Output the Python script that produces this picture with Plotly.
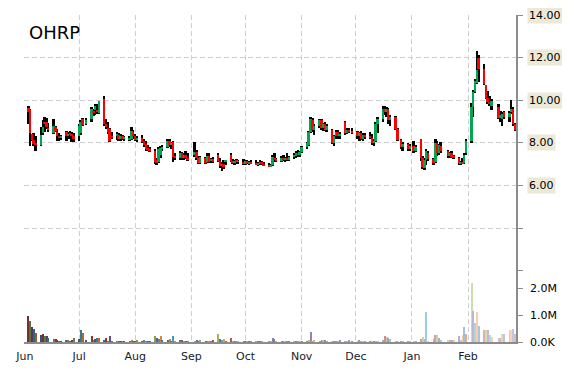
import pandas as pd
import plotly.graph_objects as go

ticker = "OHRP"
holidays = ["2013-07-04", "2013-09-02", "2013-11-28", "2013-12-25",
            "2014-01-01", "2014-01-20", "2014-02-17"]
dates = pd.bdate_range("2013-06-03", "2014-02-27", freq="C", holidays=holidays)

# weekly rows (Mon..Fri, holidays skipped)
open_ = [
    9.65, 9.55, 8.40, 8.15, 8.00,
    7.90, 8.45, 8.95, 9.00, 8.70,
    8.45, 8.75, 8.50, 8.30, 8.25,
    8.50, 8.35, 8.45, 8.40, 8.30,
    8.30, 8.45, 9.10, 8.90,
    9.10, 9.45, 9.55, 9.50, 9.40,
    10.05, 8.90, 8.70, 8.65, 8.30,
    8.30, 8.35, 8.20, 8.30, 8.20,
    8.15, 8.20, 8.50, 8.30, 8.15,
    8.25, 8.10, 7.95, 7.75, 7.70,
    7.60, 7.20, 7.10, 7.45, 7.75,
    7.80, 8.10, 7.90, 8.05, 7.35,
    7.30, 7.50, 7.30, 7.45, 7.30,
    7.45, 7.55, 7.30, 7.05,
    7.30, 7.10, 7.40, 7.15, 7.25,
    7.45, 7.15, 6.90, 7.00, 7.10,
    7.45, 7.15, 7.05, 7.15, 7.10,
    7.10, 7.00, 7.15, 7.05, 7.10,
    7.05, 7.00, 7.05, 7.10, 7.00,
    6.95, 6.90, 6.95, 7.30, 7.20,
    7.15, 7.30, 7.20, 7.30, 7.20,
    7.35, 7.40, 7.50, 7.45, 7.55,
    7.80, 7.90, 8.50, 9.05, 8.60,
    8.80, 9.05, 8.70, 8.90, 8.60,
    8.60, 8.00, 8.30, 8.50, 8.30,
    9.00, 8.45, 8.60, 8.55,
    8.50, 8.30, 8.45, 8.20, 8.35,
    8.30, 8.25, 8.00, 8.10, 8.90,
    9.10, 9.60, 9.45, 9.60, 9.05,
    9.20, 8.65, 8.15, 7.80,
    7.95, 7.70, 7.85, 7.60,
    8.20, 7.30, 6.80, 7.20, 7.50,
    7.25, 7.10, 8.00, 7.50, 7.85,
    7.60, 7.40, 7.50, 7.35,
    7.30, 7.05, 7.10, 7.05, 7.50,
    8.10, 9.70, 10.40, 10.80, 12.00,
    11.45, 10.70, 10.10, 9.90, 9.75,
    9.70, 9.15, 9.10, 9.45,
    9.20, 9.45, 9.60, 8.90,
]
high = [
    9.72, 9.60, 8.42, 8.45, 8.30,
    8.75, 9.05, 9.20, 9.15, 8.95,
    9.10, 8.80, 8.65, 8.45, 8.35,
    8.55, 8.50, 8.55, 8.50, 8.45,
    8.90, 9.05, 9.15, 9.15,
    9.70, 9.60, 9.80, 9.80, 9.97,
    10.20, 9.10, 9.00, 8.70, 8.50,
    8.50, 8.45, 8.40, 8.35, 8.30,
    8.30, 8.76, 8.60, 8.40, 8.30,
    8.35, 8.20, 8.10, 7.90, 7.80,
    7.70, 7.30, 7.80, 7.85, 7.90,
    8.20, 8.20, 8.05, 8.10, 7.50,
    7.60, 7.55, 7.50, 7.60, 7.50,
    8.05, 7.65, 7.40, 7.40,
    7.35, 7.50, 7.50, 7.30, 7.35,
    7.50, 7.30, 7.10, 7.20, 7.20,
    7.50, 7.25, 7.20, 7.25, 7.20,
    7.25, 7.20, 7.20, 7.15, 7.20,
    7.20, 7.10, 7.20, 7.15, 7.10,
    7.05, 7.00, 7.45, 7.50, 7.30,
    7.40, 7.45, 7.35, 7.50, 7.40,
    7.50, 7.60, 7.65, 7.60, 7.85,
    8.05, 8.55, 9.22, 9.15, 8.90,
    9.13, 9.10, 8.95, 9.00, 8.90,
    8.65, 8.35, 8.60, 8.60, 8.50,
    9.04, 8.70, 8.70, 8.70,
    8.57, 8.50, 8.55, 8.45, 8.45,
    8.50, 8.40, 8.20, 9.00, 9.22,
    9.74, 9.74, 9.70, 9.65, 9.30,
    9.25, 8.70, 8.20, 8.05,
    8.00, 7.95, 8.10, 7.90,
    8.20, 7.40, 7.30, 7.70, 7.60,
    7.30, 8.20, 8.10, 7.95, 8.05,
    7.65, 7.55, 7.60, 7.45,
    7.35, 7.15, 7.30, 7.50, 8.20,
    9.85, 10.50, 11.00, 12.30, 12.10,
    11.70, 10.70, 10.45, 10.20, 10.05,
    9.80, 9.50, 9.45, 9.50,
    9.50, 10.00, 9.70, 8.95,
]
low = [
    8.90, 7.83, 8.10, 7.87, 7.64,
    7.85, 8.35, 8.50, 8.65, 8.50,
    8.40, 8.50, 8.10, 8.10, 8.15,
    8.10, 8.20, 8.20, 8.05, 8.05,
    8.10, 8.35, 8.80, 8.85,
    9.00, 9.25, 9.30, 9.35, 9.35,
    8.80, 8.65, 8.40, 8.05, 8.20,
    8.15, 8.10, 8.10, 8.15, 8.10,
    8.10, 8.15, 8.20, 8.10, 8.05,
    8.00, 7.80, 7.64, 7.60, 7.55,
    7.00, 6.95, 7.05, 7.30, 7.60,
    7.75, 7.80, 7.70, 7.10, 7.20,
    7.20, 7.20, 7.20, 7.25, 7.15,
    7.35, 7.20, 6.99, 7.00,
    7.00, 7.05, 7.05, 7.05, 7.05,
    7.10, 6.80, 6.66, 6.75, 6.95,
    7.10, 7.00, 6.95, 7.00, 7.00,
    6.95, 6.95, 7.00, 6.95, 7.00,
    6.95, 6.90, 6.95, 6.95, 6.90,
    6.85, 6.85, 6.90, 7.10, 7.10,
    7.10, 7.15, 7.10, 7.15, 7.15,
    7.25, 7.30, 7.35, 7.35, 7.50,
    7.70, 7.83, 8.45, 8.50, 8.35,
    8.70, 8.60, 8.55, 8.55, 8.52,
    7.95, 7.83, 8.20, 8.20, 8.20,
    8.35, 8.40, 8.45, 8.40,
    8.20, 8.10, 8.15, 8.10, 8.20,
    8.20, 7.90, 7.87, 8.05, 8.45,
    9.00, 9.30, 9.20, 8.90, 8.80,
    8.60, 8.10, 7.70, 7.64,
    7.60, 7.60, 7.50, 7.55,
    7.15, 6.75, 6.71, 6.95, 7.15,
    6.95, 7.05, 7.40, 7.45, 7.50,
    7.30, 7.30, 7.30, 7.25,
    6.95, 6.95, 7.00, 7.00, 7.45,
    8.00, 9.20, 10.35, 10.75, 10.85,
    10.70, 10.05, 9.80, 9.75, 9.55,
    9.10, 9.00, 8.80, 9.10,
    9.00, 9.35, 8.80, 8.55,
]
close = [
    9.45, 8.45, 8.15, 7.95, 7.90,
    8.35, 8.75, 8.90, 8.75, 8.60,
    8.80, 8.55, 8.30, 8.25, 8.30,
    8.30, 8.40, 8.35, 8.30, 8.20,
    8.80, 9.00, 8.85, 9.05,
    9.60, 9.40, 9.75, 9.45, 9.95,
    8.90, 8.75, 8.50, 8.10, 8.25,
    8.40, 8.20, 8.30, 8.20, 8.25,
    8.25, 8.55, 8.30, 8.15, 8.20,
    8.05, 7.90, 7.70, 7.70, 7.60,
    7.10, 7.05, 7.70, 7.75, 7.80,
    8.10, 7.90, 8.00, 7.35, 7.30,
    7.50, 7.30, 7.45, 7.30, 7.20,
    7.55, 7.30, 7.05, 7.35,
    7.05, 7.40, 7.10, 7.25, 7.10,
    7.15, 6.90, 7.00, 6.85, 7.15,
    7.15, 7.05, 7.15, 7.10, 7.10,
    7.00, 7.15, 7.05, 7.10, 7.05,
    7.00, 7.05, 7.10, 7.00, 6.95,
    6.90, 6.95, 7.35, 7.20, 7.15,
    7.30, 7.20, 7.30, 7.20, 7.35,
    7.40, 7.50, 7.45, 7.55, 7.80,
    8.00, 8.50, 9.10, 8.60, 8.80,
    9.05, 8.70, 8.90, 8.60, 8.80,
    8.00, 8.30, 8.50, 8.30, 8.40,
    8.45, 8.60, 8.55, 8.50,
    8.30, 8.45, 8.20, 8.35, 8.30,
    8.25, 8.00, 8.10, 8.90, 9.10,
    9.60, 9.45, 9.60, 9.05, 9.20,
    8.65, 8.15, 7.80, 7.95,
    7.70, 7.85, 7.60, 7.80,
    7.30, 6.85, 7.20, 7.60, 7.25,
    7.05, 8.00, 7.50, 7.90, 7.60,
    7.40, 7.50, 7.35, 7.30,
    7.05, 7.10, 7.05, 7.45, 8.10,
    9.70, 10.40, 10.90, 11.40, 11.45,
    10.75, 10.10, 9.90, 9.85, 9.95,
    9.15, 9.30, 9.35, 9.20,
    9.40, 9.60, 8.90, 8.60,
]
volume_m = [
    1.00, 0.80, 0.58, 0.50, 0.34,
    0.26, 0.33, 0.22, 0.22, 0.17,
    0.12, 0.13, 0.07, 0.05, 0.04,
    0.10, 0.10, 0.06, 0.08, 0.17,
    0.13, 0.45, 0.34, 0.10,
    0.25, 0.10, 0.13, 0.18, 0.18,
    0.10, 0.18, 0.06, 0.22, 0.06,
    0.04, 0.03, 0.03, 0.03, 0.02,
    0.04, 0.10, 0.06, 0.03, 0.08,
    0.05, 0.07, 0.05, 0.03, 0.04,
    0.22, 0.17, 0.13, 0.22, 0.08,
    0.10, 0.13, 0.05, 0.22, 0.05,
    0.08, 0.09, 0.05, 0.04, 0.04,
    0.04, 0.07, 0.05, 0.08,
    0.04, 0.05, 0.06, 0.03, 0.07,
    0.30, 0.13, 0.08, 0.13, 0.04,
    0.18, 0.06, 0.06, 0.05, 0.03,
    0.04, 0.04, 0.03, 0.05, 0.03,
    0.05, 0.03, 0.03, 0.02, 0.01,
    0.02, 0.06, 0.17, 0.13, 0.05,
    0.03, 0.05, 0.03, 0.05, 0.03,
    0.02, 0.03, 0.04, 0.04, 0.03,
    0.04, 0.07, 0.40, 0.05, 0.10,
    0.06, 0.10, 0.08, 0.10, 0.04,
    0.06, 0.06, 0.06, 0.06, 0.10,
    0.06, 0.04, 0.10, 0.03,
    0.03, 0.07, 0.03, 0.03, 0.02,
    0.03, 0.03, 0.05, 0.06, 0.04,
    0.07, 0.22, 0.20, 0.17, 0.12,
    0.05, 0.04, 0.05, 0.04,
    0.03, 0.02, 0.02, 0.03,
    0.14, 0.19, 0.12, 1.15, 0.06,
    0.13, 0.28, 0.27, 0.17, 0.10,
    0.10, 0.10, 0.07, 0.07,
    0.24, 0.10, 0.26, 0.57, 0.30,
    2.23, 1.17, 0.74, 1.14, 0.60,
    0.47, 0.47, 0.47, 0.26, 0.20,
    0.18, 0.17, 0.30, 0.30,
    0.45, 0.45, 0.50, 0.30,
]

month_ticks = ["2013-06-01", "2013-07-01", "2013-08-01", "2013-09-01", "2013-10-01",
               "2013-11-01", "2013-12-01", "2014-01-01", "2014-02-01"]
month_labels = ["Jun", "Jul", "Aug", "Sep", "Oct", "Nov", "Dec", "Jan", "Feb"]
price_ticks = [14, 12, 10, 8, 6, 4, 2]
price_labels = ["14.00", "12.00", "10.00", "8.00", "6.00", "", ""]
volume_ticks = [0, 1, 2]
volume_labels = ["0.0K", "1.0M", "2.0M"]

n = len(dates)
assert all(len(a) == n for a in (open_, high, low, close, volume_m)), (n, len(open_), len(high), len(low), len(close), len(volume_m))

DAY_MS = 86400000
UP, DOWN, WICK = "#00A651", "#FF0000", "#000000"
GRID, AXIS = "#CFCFCF", "#8C8C8C"
FONT = "DejaVu Sans"

body_base = [min(o, c) for o, c in zip(open_, close)]
body_h = [max(abs(c - o), 0.03) for o, c in zip(open_, close)]
body_col = [UP if c >= o else DOWN for o, c in zip(open_, close)]
wick_h = [h - l for h, l in zip(high, low)]

palette = [(192, 80, 77), (155, 187, 89), (128, 100, 162), (75, 172, 198), (247, 150, 70), (79, 129, 189)]


def shade(rgb, f):
    if f < 0:
        r, g, b = (int(v * (1 + f)) for v in rgb)
    else:
        r, g, b = (int(v + (255 - v) * f) for v in rgb)
    return f"rgb({r},{g},{b})"


vol_col = [shade(palette[i % len(palette)], -0.4 + 1.0 * i / (n - 1)) for i in range(n)]

fig = go.Figure()
fig.add_trace(go.Bar(x=dates, y=wick_h, base=low, width=1.1 * DAY_MS,
                     marker=dict(color=WICK, line=dict(width=0)), xaxis="x", yaxis="y",
                     hoverinfo="skip", showlegend=False))
fig.add_trace(go.Bar(x=dates, y=body_h, base=body_base, width=1.1 * DAY_MS,
                     marker=dict(color=body_col, line=dict(width=0)), xaxis="x", yaxis="y",
                     showlegend=False))
fig.add_trace(go.Bar(x=dates, y=volume_m, width=0.6 * DAY_MS,
                     marker=dict(color=vol_col, line=dict(width=0)), xaxis="x", yaxis="y2",
                     showlegend=False))

# page body adds an 8px offset; figure is sized/margined so the plot lands where the reference has it
price_dom = (337 - 265) / 330

annotations = [dict(text=ticker, x=0, xref="paper", xshift=3, xanchor="left",
                    y=0.945, yref="paper", yanchor="middle", showarrow=False,
                    font=dict(family=FONT, size=18, color="#000000"))]
for v, t in zip(price_ticks, price_labels):
    if t:
        annotations.append(dict(text=t, x=1, xref="paper", xanchor="left", xshift=11,
                                y=v, yref="y", yanchor="middle", showarrow=False,
                                bgcolor="#ECE9D8", borderpad=1,
                                font=dict(family=FONT, size=11, color="#000000")))
for v, t in zip(volume_ticks, volume_labels):
    annotations.append(dict(text=t, x=1, xref="paper", xanchor="left", xshift=12,
                            y=v, yref="y2", yanchor="middle", showarrow=False,
                            font=dict(family=FONT, size=11, color="#000000")))

fig.update_layout(
    width=562, height=362, autosize=False,
    margin=dict(l=13, r=54, t=7, b=25),
    paper_bgcolor="white", plot_bgcolor="white",
    barmode="overlay", bargap=0,
    showlegend=False,
    annotations=annotations,
    xaxis=dict(type="date", domain=[0, 1], anchor="y2",
               range=["2013-05-31 12:00", "2014-02-27 12:00"],
               tickvals=month_ticks, ticktext=month_labels,
               showgrid=True, gridcolor=GRID, griddash="5px,3px", gridwidth=1,
               showline=True, linecolor=AXIS, linewidth=2,
               ticks="", zeroline=False, ticklabelstandoff=3,
               tickfont=dict(family=FONT, size=11, color="#1a1a2a")),
    yaxis=dict(domain=[price_dom, 1], anchor="x", side="right", range=[2, 14],
               tickvals=price_ticks, showticklabels=False,
               ticks="outside", ticklen=5, tickcolor=AXIS, tickwidth=1,
               showgrid=True, gridcolor=GRID, griddash="5px,3px", gridwidth=1,
               showline=True, linecolor=AXIS, linewidth=2, zeroline=False),
    yaxis2=dict(domain=[0, price_dom], anchor="x", side="right", range=[0, 72 / 26.85],
                tickvals=volume_ticks, showticklabels=False,
                ticks="outside", ticklen=5, tickcolor=AXIS, tickwidth=1,
                showgrid=False, showline=True, linecolor=AXIS, linewidth=2, zeroline=False),
)

fig.write_html("out.html")
